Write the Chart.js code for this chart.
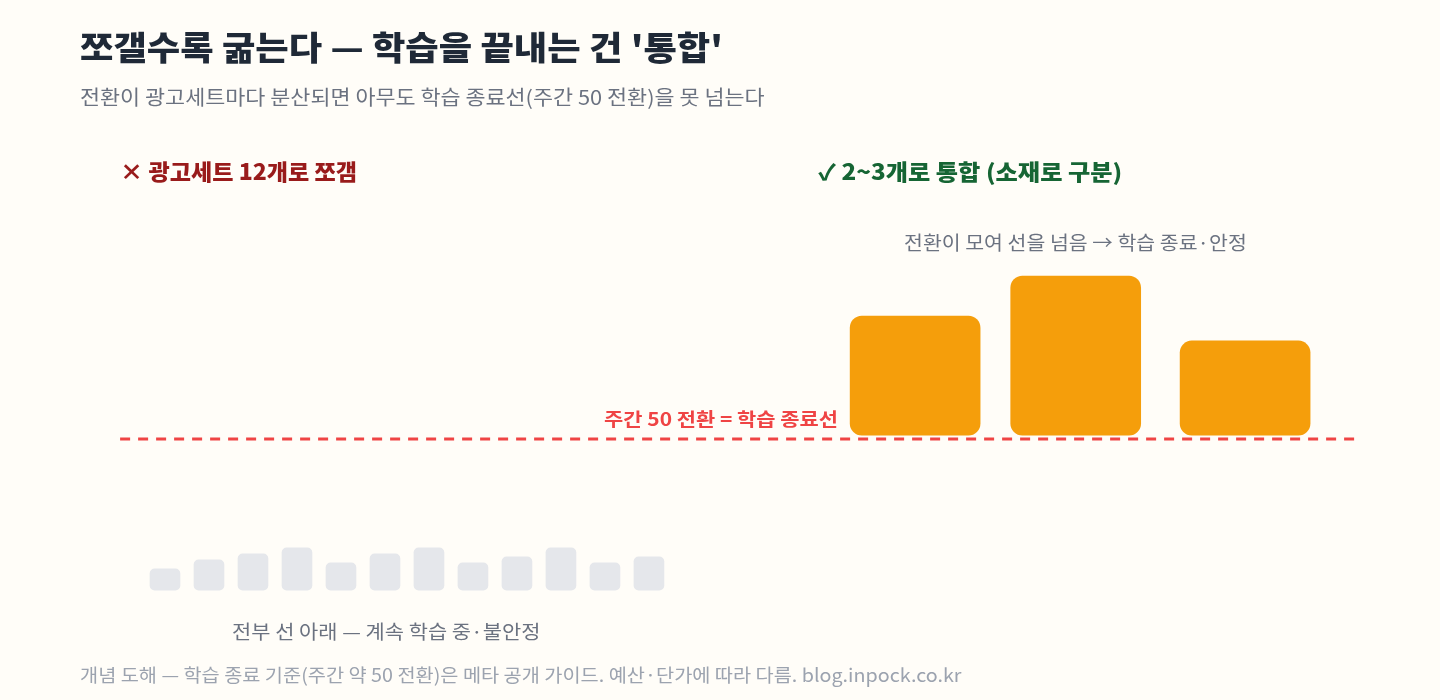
<!DOCTYPE html>
<html><head><meta charset="utf-8">
<script src="https://cdn.jsdelivr.net/npm/chart.js@4"></script>
<style>
html,body{margin:0;padding:0;background:#fffdf8;}
body{width:1440px;height:700px;position:relative;overflow:hidden;font-family:"Noto Sans CJK KR","Noto Sans",sans-serif;}
#c{position:absolute;left:0;top:0;}
.t{position:absolute;white-space:nowrap;line-height:1;transform:scaleX(1.1);transform-origin:left center;}
.r{transform-origin:right center;}
</style></head><body>
<canvas id="c" width="1440" height="700"></canvas>
<div class="t" style="left:80px;top:30px;font-size:33px;font-weight:800;color:#1f2937;">쪼갤수록 굶는다 — 학습을 끝내는 건 '통합'</div>
<div class="t" style="left:80px;top:87px;font-size:20px;color:#6b7280;transform:scaleX(1.09);">전환이 광고세트마다 분산되면 아무도 학습 종료선(주간 50 전환)을 못 넘는다</div>
<div class="t" style="left:120px;top:159px;font-size:22px;font-weight:800;color:#991b1b;transform:scaleX(1.05);">× 광고세트 12개로 쪼갬</div>
<div class="t" style="left:818px;top:159px;font-size:22px;font-weight:800;color:#166534;transform:scaleX(1.1);">✓ 2~3개로 통합 (소재로 구분)</div>
<div class="t" style="left:904px;top:232px;font-size:19px;color:#6b7280;transform:scaleX(1.08);">전환이 모여 선을 넘음 → 학습 종료·안정</div>
<div class="t r" style="right:602px;top:409px;font-size:18.5px;font-weight:700;color:#ef4444;transform:scaleX(1.13);">주간 50 전환 = 학습 종료선</div>
<div class="t" style="left:232px;top:621px;font-size:19px;color:#6b7280;">전부 선 아래 — 계속 학습 중·불안정</div>
<div class="t" style="left:80px;top:665px;font-size:18.5px;color:#9ca3af;transform:scaleX(1.066);">개념 도해 — 학습 종료 기준(주간 약 50 전환)은 메타 공개 가이드. 예산·단가에 따라 다름. blog.inpock.co.kr</div>
<script>
const splitX = [1,2,3,4,5,6,7,8,9,10,11,12];
const splitValues = [7,10,12,14,9,12,14,9,11,14,9,11];
const mergedX = [18.05,21.7,25.55];
const mergedValues = [90.7,104,82.5];
const threshold = 50;
const thresholdLineX = [-0.02,28.05];

new Chart(document.getElementById('c'),{
  data:{datasets:[
    {type:'bar',data:splitX.map((x,i)=>({x:x,y:[0,splitValues[i]]})),backgroundColor:'#e5e7eb',barThickness:30,borderRadius:5,borderSkipped:false,grouped:false},
    {type:'bar',data:mergedX.map((x,i)=>({x:x,y:[threshold+1.3,mergedValues[i]]})),backgroundColor:'#f59e0b',barThickness:130,borderRadius:12,borderSkipped:false,grouped:false},
    {type:'line',data:thresholdLineX.map(x=>({x:x,y:threshold})),borderColor:'#ef4444',borderWidth:3,borderDash:[10,8],pointRadius:0,fill:false}
  ]},
  options:{responsive:false,animation:false,
    layout:{padding:0},
    plugins:{legend:{display:false},tooltip:{enabled:false}},
    scales:{
      x:{type:'linear',min:-2.75,max:29.98,offset:false,display:false},
      y:{min:-36.4,max:195.4,display:false}
    }}
});
</script>
</body></html>
